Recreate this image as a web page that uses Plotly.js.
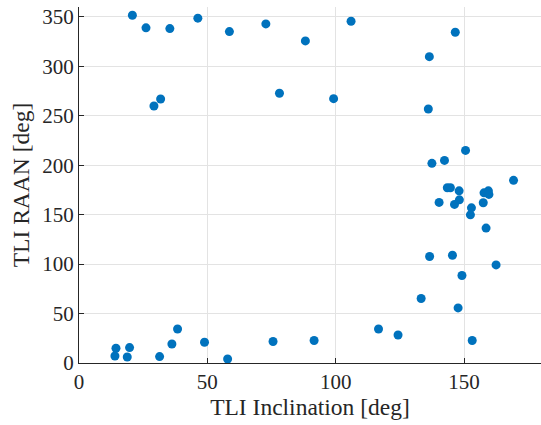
<!DOCTYPE html>
<html>
<head>
<meta charset="utf-8">
<script src="https://cdn.plot.ly/plotly-3.0.1.min.js"></script>
<style>html,body{margin:0;padding:0;background:#fff;}#chart{width:541px;height:425px;}</style>
</head>
<body>
<div id="chart"></div>
<script>
// TLI inclination [deg]
const inclination = [
  20.8, 26.1, 35.4, 29.2, 31.8, 46.3, 58.6, 72.8, 88.2, 106.0, 78.1, 99.2,
  146.6, 136.5, 136.1,
  150.6, 142.4, 137.5, 169.3, 143.5, 144.7, 148.1, 157.8, 159.5, 159.7,
  140.3, 148.2, 146.3, 157.5, 152.9, 152.5, 158.6,
  136.6, 145.5, 162.5, 149.2, 133.3, 147.7, 116.7, 124.3, 153.2,
  14.4, 14.0, 19.7, 18.8, 31.4, 36.2, 38.4, 48.9, 57.9, 75.6, 91.6
];
// TLI RAAN [deg]
const raan = [
  351.7, 338.9, 338.2, 259.9, 267.0, 348.7, 335.1, 342.9, 325.7, 345.6, 272.8, 267.3,
  334.5, 309.8, 256.9,
  215.0, 204.9, 201.9, 184.7, 177.2, 177.2, 174.1, 172.1, 174.1, 170.5,
  162.4, 165.0, 160.4, 162.0, 156.9, 149.8, 136.4,
  107.7, 109.0, 99.2, 88.5, 65.2, 55.7, 34.4, 28.3, 22.7,
  14.9, 7.1, 15.6, 6.1, 6.5, 19.2, 34.4, 21.0, 4.0, 21.7, 22.7
];
const xTicks = [0, 50, 100, 150];
const yTicks = [0, 50, 100, 150, 200, 250, 300, 350];

const fontFam = 'Liberation Serif';
const axisCommon = {
  showline: true, linecolor: '#262626', linewidth: 1, mirror: false,
  ticks: 'inside', ticklen: 5, tickcolor: '#262626', tickwidth: 1,
  showgrid: true, gridcolor: '#e3e3e3', gridwidth: 1,
  zeroline: false,
  tickfont: {size: 21, color: '#262626'}
};

const data = [{
  type: 'scatter', mode: 'markers',
  x: inclination, y: raan,
  marker: {color: '#0072BD', size: 9, line: {width: 0}},
  hoverinfo: 'x+y'
}];

const layout = {
  width: 541, height: 425,
  margin: {l: 79, r: 0, t: 7, b: 62},
  paper_bgcolor: '#ffffff', plot_bgcolor: '#ffffff',
  showlegend: false,
  font: {family: fontFam, color: '#262626'},
  xaxis: Object.assign({}, axisCommon, {
    range: [0, 180], tickmode: 'array', tickvals: xTicks, ticktext: xTicks.map(String),
    title: {text: 'TLI Inclination [deg]', font: {size: 23.5, color: '#262626'}, standoff: 2}
  }),
  yaxis: Object.assign({}, axisCommon, {
    range: [0, 360], tickmode: 'array', tickvals: yTicks, ticktext: yTicks.map(String),
    title: {text: 'TLI RAAN [deg]', font: {size: 23.5, color: '#262626'}, standoff: 6}
  })
};

Plotly.newPlot('chart', data, layout, {displayModeBar: false, staticPlot: true});
</script>
</body>
</html>
